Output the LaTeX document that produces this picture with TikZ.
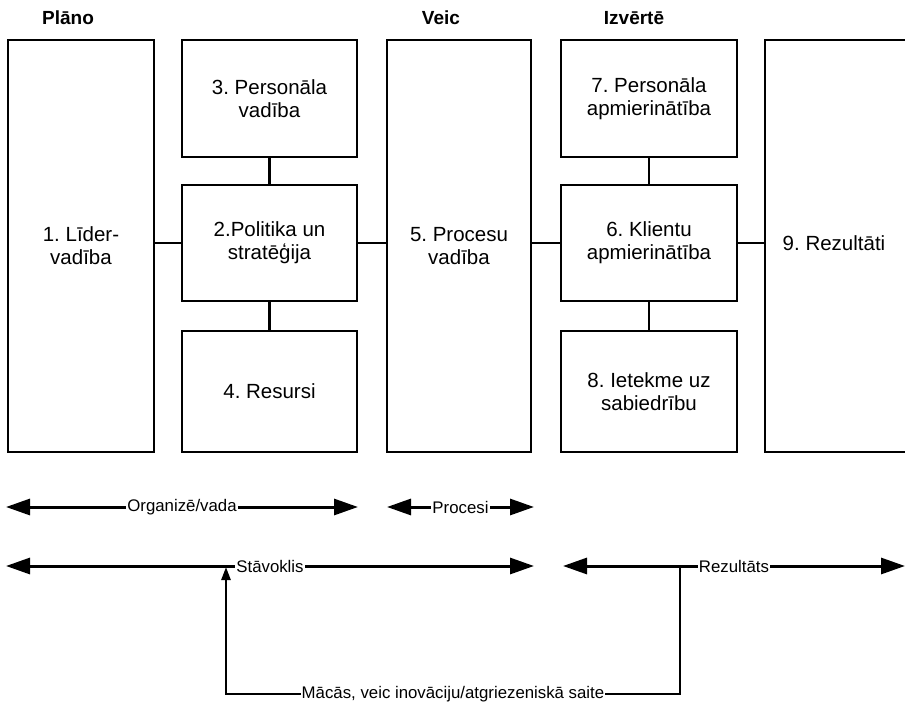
\documentclass[tikz,border=0pt]{standalone}
\usepackage{fontspec}
\setmainfont{Liberation Sans}
\usetikzlibrary{arrows.meta}
\frenchspacing
\begin{document}
\begin{tikzpicture}[x=1pt,y=-1pt,
 boxfont/.style={font=\fontsize{20.5}{23}\selectfont},
 box/.style={draw, line width=2.6pt, inner sep=0pt, align=center, boxfont},
 tall/.style={box, minimum height=412pt},
 hdr/.style={font=\bfseries\fontsize{19}{21}\selectfont, anchor=base},
 conn/.style={line width=2.3pt},
 dbl/.style={line width=3pt, {Triangle[length=24pt,width=16pt]}-{Triangle[length=24pt,width=16pt]}},
 lbl/.style={fill=white, inner sep=1pt, font=\fontsize{16.8}{18}\selectfont},
]
\useasboundingbox (0,0) rectangle (905,703);
\clip (0,0) rectangle (905,703);

% headers
\node[hdr] (hplano) at (68,25) {Plāno};
\node[hdr] (hveic) at (441,25) {Veic};
\node[hdr] (hizv) at (634,25) {Izvērtē};

% boxes
\node[tall, minimum width=146pt] (b1) at (81,246) {1. Līder-\\vadība};
\node[box, minimum width=175pt, minimum height=117pt] (b3) at (269.5,98.5) {3. Personāla\\vadība};
\node[box, minimum width=175pt, minimum height=116pt] (b2) at (269.5,243) {2.Politika un\\stratēģija};
\node[box, minimum width=175pt, minimum height=121pt] (b4) at (269.5,391.5) {4. Resursi};
\node[tall, minimum width=144pt] (b5) at (459,246) {5. Procesu\\vadība};
\node[box, minimum width=176pt, minimum height=117pt] (b7) at (649,98.5) {7. Personāla\\apmierinātība};
\node[box, minimum width=176pt, minimum height=116pt] (b6) at (649,243) {6. Klientu\\apmierinātība};
\node[box, minimum width=176pt, minimum height=121pt] (b8) at (649,391.5) {8. Ietekme uz\\sabiedrību};
\node[tall, minimum width=200pt, label={[boxfont, xshift=-31pt, yshift=3pt]center:9. Rezultāti}] (b9) at (865,246) {};

% connectors
\draw[conn] (b1.east |- b2.west) -- (b2.west);
\draw[conn] (b2.east) -- (b2.east -| b5.west);
\draw[conn] (b5.east |- b6.west) -- (b6.west);
\draw[conn] (b6.east) -- (b6.east -| b9.west);
\draw[conn] (b3.south) -- (b2.north);
\draw[conn] (b2.south) -- (b4.north);
\draw[conn] (b7.south) -- (b6.north);
\draw[conn] (b6.south) -- (b8.north);

% lower arrows
\coordinate (o1) at (6,507);
\coordinate (o2) at (358,507);
\coordinate (p1) at (387,507);
\coordinate (p2) at (534,507);
\coordinate (s1) at (6,566);
\coordinate (s2) at (534,566);
\coordinate (r1) at (563,566);
\coordinate (r2) at (905,566);
\draw[dbl] (o1) -- node[lbl] (lorg) {Organizē/vada} (o2);
\draw[dbl] (p1) -- node[lbl] (lproc) {Procesi} (p2);
\draw[dbl] (s1) -- node[lbl] (lstav) {Stāvoklis} (s2);
\draw[dbl] (r1) -- node[lbl] (lrez) {Rezultāts} (r2);

% feedback loop
\coordinate (f0) at (680,566);
\coordinate (f1) at (680,694);
\coordinate (f2) at (226,694);
\coordinate (f3) at (226,567);
\draw[line width=2.5pt, -{Triangle[length=13pt,width=9pt]}] (f0) -- (f1) -- node[lbl] (lfb) {Mācās, veic inovāciju/atgriezeniskā saite} (f2) -- (f3);
\end{tikzpicture}
\end{document}
